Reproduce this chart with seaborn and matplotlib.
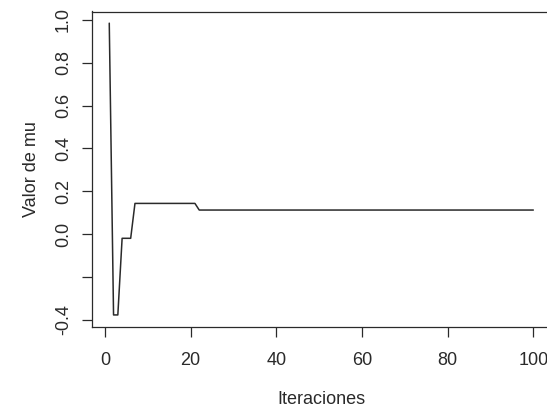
import matplotlib
matplotlib.use('Agg')
import matplotlib.pyplot as plt
import pandas as pd
import seaborn as sns

# valores de mu por iteracion
iteraciones = list(range(1, 101))
mu = [0.985, -0.378, -0.378, -0.02, -0.02, -0.02,
      0.143, 0.143, 0.143, 0.143, 0.143, 0.143, 0.143, 0.143, 0.143, 0.143,
      0.143, 0.143, 0.143, 0.143, 0.143,
      0.112, 0.112, 0.112, 0.112, 0.112, 0.112, 0.112, 0.112, 0.112, 0.112,
      0.112, 0.112, 0.112, 0.112, 0.112, 0.112, 0.112, 0.112, 0.112, 0.112,
      0.112, 0.112, 0.112, 0.112, 0.112, 0.112, 0.112, 0.112, 0.112, 0.112,
      0.112, 0.112, 0.112, 0.112, 0.112, 0.112, 0.112, 0.112, 0.112, 0.112,
      0.112, 0.112, 0.112, 0.112, 0.112, 0.112, 0.112, 0.112, 0.112, 0.112,
      0.112, 0.112, 0.112, 0.112, 0.112, 0.112, 0.112, 0.112, 0.112, 0.112,
      0.112, 0.112, 0.112, 0.112, 0.112, 0.112, 0.112, 0.112, 0.112, 0.112,
      0.112, 0.112, 0.112, 0.112, 0.112, 0.112, 0.112, 0.112, 0.112]
xticks = [0, 20, 40, 60, 80, 100]
yticks = [-0.4, -0.2, 0.0, 0.2, 0.4, 0.6, 0.8, 1.0]
ytick_labels = ['-0.4', '', '0.0', '0.2', '0.4', '0.6', '0.8', '1.0']

df = pd.DataFrame({'iter': iteraciones, 'mu': mu})

sns.set_style('white')
plt.rcParams['font.family'] = ['Liberation Sans', 'DejaVu Sans']
ink = '#2a2a2a'

fig = plt.figure(figsize=(5.47, 4.12), dpi=100)
W, H = 547, 412
left, right, top, bottom = 92.3, 550.3, 11.5, 326.6
ax = fig.add_axes([left / W, (H - bottom) / H, (right - left) / W, (bottom - top) / H])

sns.lineplot(data=df, x='iter', y='mu', estimator=None, color=ink, linewidth=1.1, ax=ax)

ax.set_xlim(-2.96, 103.96)
ax.set_ylim(-0.4325, 1.0395)
ax.set_xticks(xticks)
ax.set_xticklabels([str(t) for t in xticks])
ax.set_yticks(yticks)
ax.set_yticklabels(ytick_labels, rotation=90, va='center')

for s in ax.spines.values():
    s.set_visible(True)
    s.set_color(ink)
    s.set_linewidth(0.9)

ax.tick_params(axis='both', direction='out', length=7.2, width=0.9, color=ink,
               labelsize=13, labelcolor=ink, bottom=True, left=True)
ax.tick_params(axis='x', pad=11)
ax.tick_params(axis='y', pad=7.5)

ax.set_xlabel('Iteraciones', fontsize=13, color=ink, va='center')
ax.set_ylabel('Valor de mu', fontsize=13, color=ink, va='center')
ax.xaxis.set_label_coords(0.5, -73.4 / (bottom - top))
ax.yaxis.set_label_coords(-60.3 / (right - left), 0.5)

fig.savefig('out.png', dpi=100)
